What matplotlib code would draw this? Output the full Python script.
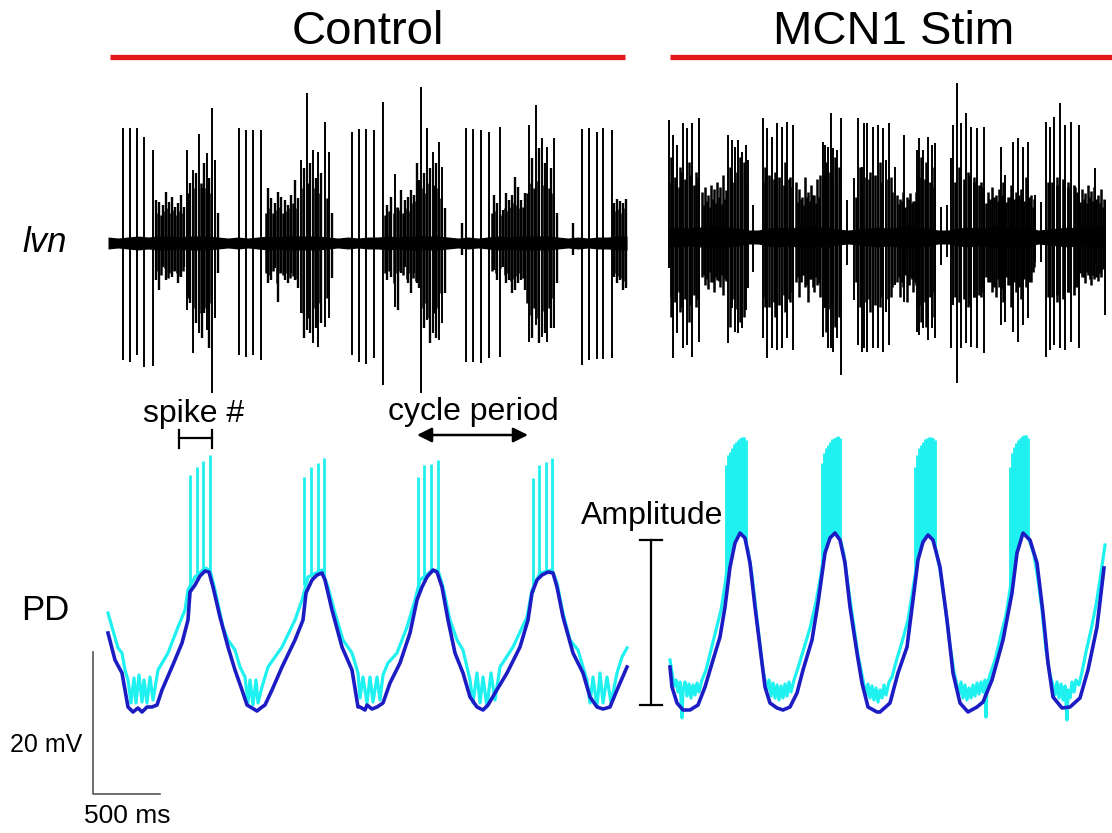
import numpy as np
import matplotlib.pyplot as plt

plt.rcParams['font.family'] = ['Liberation Sans', 'DejaVu Sans']

# one sample = 500/67 ms, one PD unit = 20/142 mV (from the scale bar)
MS_PER_SAMPLE = 500 / 67
MV_PER_UNIT = 20 / 142

# ---------------- lvn, Control ----------------
# large units: time (samples), upstroke, downstroke
ctrl_lvn_t = [15, 22, 29, 36, 45, 79, 85, 91, 99, 104, 107, 131, 138, 145, 153, 193, 199, 205, 210, 217,
              221, 244, 251, 258, 266, 275, 287, 313, 319, 325, 331, 334, 358, 365, 373, 381, 392, 421, 428, 434,
              439, 446, 474, 481, 489, 495, 504]
ctrl_lvn_up = [115, 115, 115, 106, 93, 93, 73, 109, 90, 135, 83, 115, 113, 113, 113, 83, 150, 93, 91, 121,
               91, 111, 114, 114, 113, 141, 69, 156, 115, 91, 101, 76, 115, 114, 113, 111, 116, 118, 138, 105,
               96, 105, 114, 115, 111, 115, 113]
ctrl_lvn_dn = [117, 119, 112, 124, 123, 67, 110, 90, 87, 150, 75, 112, 114, 112, 117, 70, 87, 100, 104, 84,
               75, 112, 119, 121, 115, 142, 64, 150, 77, 90, 97, 80, 119, 119, 120, 115, 114, 99, 82, 94,
               99, 85, 122, 117, 116, 116, 115]
# small units
ctrl_small_t = [48, 51, 55, 58, 61, 64, 67, 70, 73, 76, 82, 88, 94, 96, 101, 110,
                160, 163, 167, 170, 173, 177, 180, 183, 187, 190, 196, 202, 208, 213, 224,
                279, 283, 290, 293, 297, 300, 303, 306, 309, 311, 316, 322, 328, 337, 354,
                386, 389, 395, 398, 401, 404, 407, 410, 413, 417, 424, 431, 437, 443, 449, 465,
                506, 509, 512, 515, 518]
ctrl_small_up = [43, 41, 38, 51, 41, 46, 36, 40, 48, 36, 60, 70, 55, 80, 65, 30,
                 55, 45, 40, 51, 46, 43, 38, 48, 63, 45, 75, 80, 65, 70, 30,
                 38, 46, 35, 53, 43, 46, 53, 48, 80, 63, 70, 75, 80, 35, 20,
                 48, 40, 33, 50, 43, 48, 66, 56, 43, 50, 85, 95, 80, 75, 30, 20,
                 40, 44, 42, 40, 44]
ctrl_small_dn = [37, 47, 24, 37, 30, 34, 28, 40, 34, 24, 60, 80, 95, 70, 105, 30,
                 40, 37, 25, 59, 30, 37, 40, 30, 37, 45, 95, 90, 85, 80, 35,
                 37, 34, 67, 30, 24, 40, 50, 30, 40, 45, 85, 100, 95, 50, 12,
                 27, 37, 24, 40, 37, 50, 47, 40, 37, 47, 95, 100, 90, 85, 40, 12,
                 34, 40, 37, 47, 45]
# dense low-amplitude activity inside the bursts
ctrl_fill_t = [49.5, 53, 56.5, 59.5, 62.5, 65.5, 68.5, 71.5, 74.5, 80, 86.5, 92.5, 97.5, 102.5,
               158, 161.5, 165, 168.5, 171.5, 175, 178.5, 181.5, 185, 188.5, 194.5, 200, 206.5, 212, 218.5,
               277, 281, 286, 288.5, 291.5, 295, 298.5, 301.5, 304.5, 307.5, 314.5, 318, 320.5, 326, 330, 333,
               384, 387.5, 392, 396.5, 399.5, 402.5, 405.5, 408.5, 411.5, 415, 419, 423, 426, 430, 435.5, 441, 445,
               507.5, 510.5, 513.5, 516.5]
ctrl_fill_up = [30, 28, 32, 35, 30, 33, 28, 32, 30, 50, 55, 60, 55, 50,
                30, 35, 30, 33, 36, 30, 32, 35, 40, 35, 55, 60, 55, 50, 45,
                28, 32, 30, 36, 33, 30, 35, 32, 40, 42, 55, 50, 60, 58, 55, 45,
                30, 32, 28, 35, 32, 36, 40, 38, 35, 36, 50, 60, 55, 62, 58, 55, 50,
                32, 34, 30, 35]
ctrl_fill_dn = [28, 32, 25, 35, 30, 28, 30, 33, 28, 55, 65, 70, 65, 60,
                30, 32, 28, 40, 30, 32, 30, 35, 33, 36, 70, 75, 65, 60, 55,
                30, 28, 40, 30, 28, 32, 36, 30, 35, 38, 65, 60, 75, 70, 65, 50,
                28, 30, 25, 32, 30, 38, 36, 33, 30, 35, 60, 72, 65, 75, 68, 65, 55,
                30, 33, 35, 38]
# baseline noise half-width
ctrl_noise_t = [0, 10, 20, 30, 40, 50, 60, 70, 80, 90, 100, 110, 120, 130, 140, 150, 160, 170, 180, 190,
                200, 210, 220, 230, 240, 250, 260, 270, 280, 290, 300, 310, 320, 330, 340, 350, 360, 370, 380,
                390, 400, 410, 420, 430, 440, 450, 460, 470, 480, 490, 500, 510, 519]
ctrl_noise_amp = [6, 5, 6, 7, 6, 7, 7, 6, 7, 7, 7, 6, 5, 6, 5, 6, 7, 6, 7, 7,
                  7, 7, 6, 5, 6, 5, 6, 6, 7, 6, 7, 7, 7, 7, 6, 5, 6, 5, 6,
                  7, 6, 7, 7, 7, 7, 6, 5, 6, 5, 6, 6, 7, 7]

# ---------------- lvn, MCN1 Stim ----------------
stim_lvn_t = [1, 5, 9, 15, 19, 24, 31, 60, 64, 67, 70, 74, 78, 80, 85, 95, 99, 104, 109, 114,
              119, 125, 155, 157, 160, 163, 165, 169, 173, 179, 186, 190, 194, 196, 199, 205, 210, 215, 218, 221,
              227, 236, 249, 251, 255, 260, 264, 267, 273, 279, 283, 285, 289, 293, 298, 303, 309, 316, 333, 337,
              345, 350, 355, 360, 367, 373, 378, 382, 386, 392, 397, 403, 411, 427, 437]
stim_lvn_up = [117, 102, 92, 114, 109, 114, 119, 102, 97, 90, 97, 85, 92, 77, 32, 119, 109, 100, 114, 110,
               115, 112, 95, 92, 90, 124, 89, 87, 119, 37, 59, 119, 70, 114, 114, 110, 112, 109, 77, 114,
               70, 102, 87, 99, 87, 100, 92, 94, 30, 32, 79, 112, 154, 114, 124, 110, 109, 110, 90, 62,
               95, 99, 90, 95, 42, 35, 115, 110, 120, 134, 112, 115, 112, 69, 37]
stim_lvn_dn = [31, 121, 96, 111, 108, 120, 105, 106, 71, 95, 96, 91, 73, 51, 35, 101, 121, 111, 113, 111,
               101, 113, 100, 71, 111, 111, 115, 101, 138, 28, 63, 108, 115, 111, 115, 111, 111, 115, 75, 108,
               48, 65, 95, 98, 91, 103, 91, 101, 28, 20, 111, 68, 146, 111, 106, 110, 111, 116, 88, 85,
               95, 105, 88, 81, 25, 25, 120, 113, 108, 111, 113, 105, 111, 25, 78]
stim_small_t = [3, 12, 21, 28, 34, 37, 40, 43, 46, 49, 52, 55, 58, 62, 72, 76,
                97, 107, 117, 122, 128, 131, 134, 137, 140, 143, 146, 149, 152, 158, 167, 171,
                192, 202, 212, 223, 229, 232, 235, 239, 242, 245, 248, 253, 258, 266,
                291, 300, 306, 313, 320, 324, 328, 331, 335, 340, 343, 348, 353, 358, 363, 366,
                380, 389, 400, 407, 414, 417, 420, 423, 426, 430, 433, 436]
stim_small_up = [80, 70, 75, 65, 45, 50, 42, 52, 48, 55, 50, 62, 47, 70, 80, 75,
                 70, 65, 75, 60, 55, 48, 40, 60, 45, 52, 42, 58, 62, 75, 80, 70,
                 70, 65, 75, 60, 42, 38, 45, 40, 44, 36, 45, 80, 75, 70,
                 70, 65, 60, 55, 45, 50, 42, 48, 55, 40, 52, 45, 48, 60, 42, 38,
                 55, 60, 55, 50, 48, 44, 52, 46, 50, 42, 48, 38]
stim_small_dn = [80, 75, 85, 70, 40, 48, 52, 45, 55, 43, 50, 58, 44, 90, 85, 80,
                 70, 80, 75, 65, 45, 60, 38, 50, 65, 42, 55, 48, 60, 95, 90, 80,
                 70, 75, 70, 60, 45, 60, 50, 65, 40, 55, 48, 85, 90, 80,
                 65, 70, 60, 60, 45, 55, 60, 50, 65, 48, 70, 55, 62, 50, 45, 30,
                 60, 65, 55, 50, 40, 46, 38, 48, 42, 44, 40, 30]
stim_fill_t = [2.5, 7, 11, 13, 17, 22, 26, 30,
               35.5, 38.5, 41.5, 44.5, 47.5, 50.5, 53.5, 56.5,
               62.5, 65.5, 68.5, 73, 77,
               96.5, 101, 106, 111, 116, 121, 124,
               129.5, 132.5, 135.5, 138.5, 141.5, 144.5, 147.5, 150.5,
               156, 159, 162, 164, 168, 171.5,
               188, 192.5, 197.5, 201, 207, 213, 219.5, 224,
               230.5, 233.5, 237, 240.5, 243.5, 246.5,
               250, 253, 257, 262, 265.5,
               287, 291.5, 295.5, 301, 306, 311, 314.5,
               318, 322, 326, 329.5, 333.5, 338, 341.5, 345.5, 351, 356, 361, 365,
               380.5, 384, 389, 394.5, 400, 406, 409,
               412, 415.5, 418.5, 421.5, 424.5, 428, 431.5, 434.5]
stim_fill_up = [55, 60, 50, 65, 58, 62, 52, 60,
                32, 36, 30, 38, 34, 40, 33, 38,
                60, 55, 65, 58, 50,
                55, 62, 58, 60, 52, 58, 50,
                35, 38, 32, 40, 36, 42, 34, 40,
                62, 58, 65, 60, 55, 50,
                40, 55, 60, 58, 62, 55, 58, 45,
                33, 36, 30, 38, 34, 36,
                62, 60, 58, 55, 50,
                55, 60, 58, 62, 55, 52, 50,
                34, 38, 40, 36, 42, 35, 40, 38, 42, 36, 40, 30,
                50, 55, 52, 58, 50, 52, 45,
                35, 38, 34, 40, 36, 38, 34, 30]
stim_fill_dn = [60, 65, 55, 70, 62, 68, 58, 62,
                38, 42, 35, 45, 40, 44, 38, 42,
                70, 62, 72, 65, 55,
                60, 70, 65, 68, 58, 62, 55,
                40, 45, 38, 48, 42, 50, 40, 46,
                70, 65, 72, 68, 60, 55,
                45, 60, 65, 62, 68, 60, 62, 50,
                40, 45, 38, 48, 42, 45,
                70, 68, 65, 60, 55,
                60, 65, 62, 68, 60, 58, 55,
                40, 45, 50, 42, 52, 40, 48, 45, 50, 42, 45, 35,
                55, 60, 58, 62, 55, 58, 50,
                36, 40, 35, 42, 38, 40, 36, 32]
stim_noise_t = [0, 10, 20, 30, 40, 50, 60, 70, 80, 90, 100, 110, 120, 130, 140, 150, 160, 170, 180, 190,
                200, 210, 220, 230, 240, 250, 260, 270, 280, 290, 300, 310, 320, 330, 340, 350, 360, 370, 380,
                390, 400, 410, 420, 430, 437]
stim_noise_amp = [9, 10, 9, 10, 10, 11, 10, 9, 7, 7, 9, 10, 9, 10, 11, 10, 10, 8, 7, 8,
                  9, 10, 9, 10, 11, 10, 9, 7, 7, 9, 10, 9, 10, 11, 10, 11, 10, 7, 8,
                  9, 10, 9, 10, 11, 10]

# ---------------- PD intracellular, Control ----------------
ctrl_blue_t = [0, 7, 14, 20, 25, 30, 34, 39, 44, 49, 54, 64, 74, 80, 82, 87, 92, 97, 101, 105,
               112, 120, 127, 134, 139, 144, 149, 154, 157, 164, 174, 187, 195, 198, 204, 209, 214, 217, 224, 234,
               244, 250, 252, 257, 259, 264, 269, 275, 282, 292, 302, 309, 314, 319, 325, 329, 334, 340, 347, 355,
               362, 369, 375, 380, 387, 399, 412, 420, 424, 429, 434, 440, 445, 449, 455, 465, 475, 482, 489, 495,
               502, 509, 519]
ctrl_blue_v = [77, 50, 37, 3, -2, 2, -2, 3, 3, 5, 20, 43, 67, 90, 118, 125, 134, 139, 138, 123,
               93, 63, 40, 20, 5, 2, -1, 3, 5, 20, 43, 70, 90, 117, 130, 135, 137, 130, 100, 63,
               40, 3, 3, 0, 5, 1, 3, 7, 27, 47, 77, 110, 123, 133, 140, 138, 123, 90, 57, 37,
               13, 3, 0, 5, 17, 37, 63, 90, 117, 130, 135, 138, 137, 123, 93, 57, 37, 13, 3, 1,
               3, 20, 43]
ctrl_cyan_t = [0, 4, 10, 14, 17, 20, 23, 26, 28, 31, 34, 36, 39, 42, 45, 50, 60, 70, 77, 80,
               87, 97, 102, 107, 115, 120, 127, 132, 137, 140, 142, 145, 148, 150, 154, 160, 174, 187, 194, 200,
               214, 220, 227, 235, 244, 250, 252, 255, 259, 262, 265, 269, 272, 275, 280, 289, 299, 307, 312, 322,
               330, 335, 342, 349, 355, 359, 362, 365, 369, 372, 375, 379, 383, 387, 392, 405, 419, 424, 432, 444,
               449, 455, 462, 470, 475, 479, 482, 485, 489, 492, 495, 499, 503, 509, 514, 519]
ctrl_cyan_v = [97, 83, 62, 57, 40, 30, 7, 32, 7, 35, 8, 30, 7, 33, 10, 40, 57, 83, 100, 120,
               133, 142, 140, 120, 83, 70, 60, 43, 33, 7, 30, 5, 30, 7, 23, 43, 63, 90, 110, 133,
               140, 123, 97, 70, 57, 37, 12, 33, 7, 33, 8, 33, 10, 35, 47, 57, 83, 110, 130, 138,
               140, 123, 90, 70, 60, 43, 30, 7, 37, 7, 33, 3, 37, 10, 43, 63, 93, 120, 137, 140,
               127, 97, 70, 60, 43, 30, 7, 33, 3, 37, 7, 33, 7, 37, 53, 62]
ctrl_spk_t = [82, 89, 95, 102, 196, 203, 210, 216, 310, 316, 323, 330, 425, 431, 438, 444]
ctrl_spk_base = [120, 132, 138, 140, 125, 133, 138, 135, 118, 130, 137, 140, 118, 132, 138, 140]
ctrl_spk_peak = [235, 243, 249, 255, 233, 243, 247, 252, 233, 245, 246, 250, 232, 245, 248, 252]

# ---------------- PD intracellular, MCN1 Stim ----------------
stim_blue_t = [2, 4, 9, 15, 22, 30, 37, 45, 52, 57, 62, 67, 72, 77, 82, 87, 92, 97, 102, 109,
               115, 122, 129, 135, 144, 150, 157, 162, 167, 172, 177, 182, 189, 194, 200, 209, 212, 222, 230, 239,
               245, 250, 255, 260, 265, 272, 279, 285, 292, 300, 309, 315, 324, 335, 344, 349, 355, 362, 369, 375,
               380, 385, 394, 402, 412, 420, 429, 436]
stim_blue_v = [43, 23, 7, 0, 0, 5, 23, 50, 73, 103, 143, 167, 177, 172, 147, 103, 63, 23, 7, 2,
               0, 3, 17, 40, 70, 107, 157, 172, 177, 170, 147, 103, 57, 27, 3, -2, -2, 7, 37, 63,
               110, 150, 168, 175, 170, 143, 90, 37, 7, -2, 3, 8, 30, 70, 117, 157, 177, 170, 147, 97,
               47, 13, 2, 3, 12, 40, 83, 142]
stim_cyan_t = [2, 4, 6, 8, 10, 12, 14, 15, 17, 19, 21, 23, 25, 27, 29, 31, 34, 38, 43, 48,
               53, 57, 60, 64, 68, 72, 76, 80, 84, 88, 92, 95, 97, 99, 101, 103, 105, 107, 109, 111,
               113, 115, 117, 119, 121, 123, 126, 130, 136, 142, 148, 152, 156, 160, 164, 168, 172, 176, 180, 185,
               190, 194, 196, 198, 200, 202, 204, 206, 208, 210, 212, 214, 216, 218, 221, 224, 228, 234, 240, 244,
               248, 252, 256, 260, 264, 268, 272, 277, 282, 286, 289, 291, 293, 295, 297, 299, 301, 303, 305, 307,
               309, 311, 313, 315, 317, 318, 319, 322, 327, 333, 338, 342, 346, 350, 354, 358, 362, 366, 370, 374,
               378, 382, 385, 387, 389, 391, 393, 395, 397, 399, 400, 402, 404, 406, 408, 411, 414, 418, 423, 428,
               432, 436, 437]
stim_cyan_v = [50, 38, 24, 30, 18, 28, -8, 20, 28, 14, 26, 12, 25, 15, 27, 18, 30, 40, 60, 80,
               100, 125, 150, 168, 176, 178, 174, 160, 135, 100, 65, 40, 30, 20, 30, 14, 27, 12, 25, 10,
               24, 12, 26, 14, 28, 18, 30, 42, 62, 82, 108, 130, 155, 170, 176, 178, 172, 155, 125, 90,
               55, 35, 25, 14, 26, 12, 24, 10, 22, 8, 20, 12, 25, 15, 28, 33, 48, 68, 90, 115,
               140, 162, 172, 176, 172, 160, 140, 105, 65, 38, 25, 15, 28, 12, 25, 10, 22, 12, 25, 14,
               27, 16, 28, 18, 30, -7, 25, 35, 50, 75, 95, 120, 150, 170, 177, 175, 168, 155, 130, 100,
               60, 35, 25, 15, 28, 12, 26, 10, 24, -10, 20, 12, 28, 18, 30, 25, 38, 58, 80, 105,
               130, 158, 165]
stim_spk_t = [58, 60, 62, 64, 66, 68, 70, 72, 74, 76, 78,
              154, 156, 158, 160, 162, 164, 166, 168, 170, 172,
              247, 249, 251, 253, 255, 257, 259, 261, 263, 265, 267,
              342, 344, 346, 348, 350, 352, 354, 356, 358, 360]
stim_spk_base = [135, 150, 160, 168, 172, 176, 177, 178, 176, 174, 167,
                 143, 155, 163, 170, 173, 176, 177, 178, 175, 172,
                 135, 145, 157, 165, 170, 173, 175, 176, 174, 172, 163,
                 120, 135, 150, 160, 170, 174, 177, 176, 175, 170]
stim_spk_peak = [245, 255, 258, 262, 266, 268, 270, 272, 273, 273, 270,
                 247, 257, 262, 265, 268, 271, 272, 273, 274, 272,
                 243, 255, 262, 265, 268, 271, 272, 273, 273, 272, 270,
                 243, 257, 263, 267, 270, 272, 274, 275, 275, 272]

# layout (figure pixels)
X_CTRL, X_STIM = 108, 668
Y_LVN_CTRL, Y_LVN_STIM = 243, 237
Y_PD = 710
CYAN = '#1ff0f0'
BLUE = '#1c1cc4'
RED = '#e3161b'

fig = plt.figure(figsize=(11.12, 8.33), dpi=100)
ax = fig.add_axes([0, 0, 1, 1])
ax.set_xlim(0, 1112)
ax.set_ylim(833, 0)
ax.axis('off')


def draw_lvn(x0, y0, units, noise):
    nt, namp = np.array(noise[0]), np.array(noise[1])
    ax.fill_between(x0 + nt, y0 - namp, y0 + namp, color='k', lw=0)
    for (t, up, dn), lw in units:
        ax.vlines(x0 + np.array(t), y0 - np.array(up), y0 + np.array(dn), color='k', lw=lw)


def draw_pd(x0, ct, cv, spt, spb, spp, bt, bv):
    ax.plot(x0 + np.array(ct), Y_PD - np.array(cv), color=CYAN, lw=2.3)
    ax.vlines(x0 + np.array(spt), Y_PD - np.array(spp), Y_PD - np.array(spb), color=CYAN, lw=2.0)
    ax.plot(x0 + np.array(bt), Y_PD - np.array(bv), color=BLUE, lw=2.6)


draw_lvn(X_CTRL, Y_LVN_CTRL,
         [((ctrl_fill_t, ctrl_fill_up, ctrl_fill_dn), 1.8),
          ((ctrl_small_t, ctrl_small_up, ctrl_small_dn), 1.7),
          ((ctrl_lvn_t, ctrl_lvn_up, ctrl_lvn_dn), 1.4)],
         (ctrl_noise_t, ctrl_noise_amp))
draw_lvn(X_STIM, Y_LVN_STIM,
         [((stim_fill_t, stim_fill_up, stim_fill_dn), 1.9),
          ((stim_small_t, stim_small_up, stim_small_dn), 1.8),
          ((stim_lvn_t, stim_lvn_up, stim_lvn_dn), 1.4)],
         (stim_noise_t, stim_noise_amp))
draw_pd(X_CTRL, ctrl_cyan_t, ctrl_cyan_v, ctrl_spk_t, ctrl_spk_base, ctrl_spk_peak, ctrl_blue_t, ctrl_blue_v)
draw_pd(X_STIM, stim_cyan_t, stim_cyan_v, stim_spk_t, stim_spk_base, stim_spk_peak, stim_blue_t, stim_blue_v)

# condition bars and titles
ax.plot([X_CTRL + 2, X_CTRL + ctrl_noise_t[-1] - 2], [57, 57], color=RED, lw=3.8, solid_capstyle='butt')
ax.plot([X_STIM + 2, 1112], [57, 57], color=RED, lw=3.8, solid_capstyle='butt')
ax.text(368, 32, 'Control', fontsize=34, ha='center', va='center')
ax.text(894, 32, 'MCN1 Stim', fontsize=34, ha='center', va='center')

ax.text(45, 242, 'lvn', fontsize=25, fontstyle='italic', ha='center', va='center')
ax.text(45, 610, 'PD', fontsize=25, ha='center', va='center')

# spike # bracket
ax.text(194, 414, 'spike #', fontsize=23, ha='center', va='center')
ax.plot([179, 212], [438, 438], color='k', lw=1.6)
ax.plot([179, 179], [430, 448], color='k', lw=1.6)
ax.plot([212, 212], [430, 448], color='k', lw=1.6)

# cycle period arrow
ax.text(473, 412, 'cycle period', fontsize=23, ha='center', va='center')
ax.annotate('', xy=(528, 435), xytext=(417, 435),
            arrowprops=dict(arrowstyle='<|-|>', color='k', lw=1.8, mutation_scale=22,
                            shrinkA=0, shrinkB=0))

# amplitude bar
ax.text(652, 516, 'Amplitude', fontsize=23, ha='center', va='center')
ax.plot([651, 651], [540, 705], color='k', lw=1.6)
ax.plot([640, 662], [540, 540], color='k', lw=1.6)
ax.plot([640, 662], [705, 705], color='k', lw=1.6)

# scale bar
sx, sy = 93, 794
ax.plot([sx, sx, sx + 500 / MS_PER_SAMPLE], [sy - 20 / MV_PER_UNIT, sy, sy],
        color='#555555', lw=1.2)
ax.text(46, 745, '20 mV', fontsize=18, ha='center', va='center')
ax.text(127, 816, '500 ms', fontsize=19, ha='center', va='center')

fig.savefig('out.png', dpi=100)
